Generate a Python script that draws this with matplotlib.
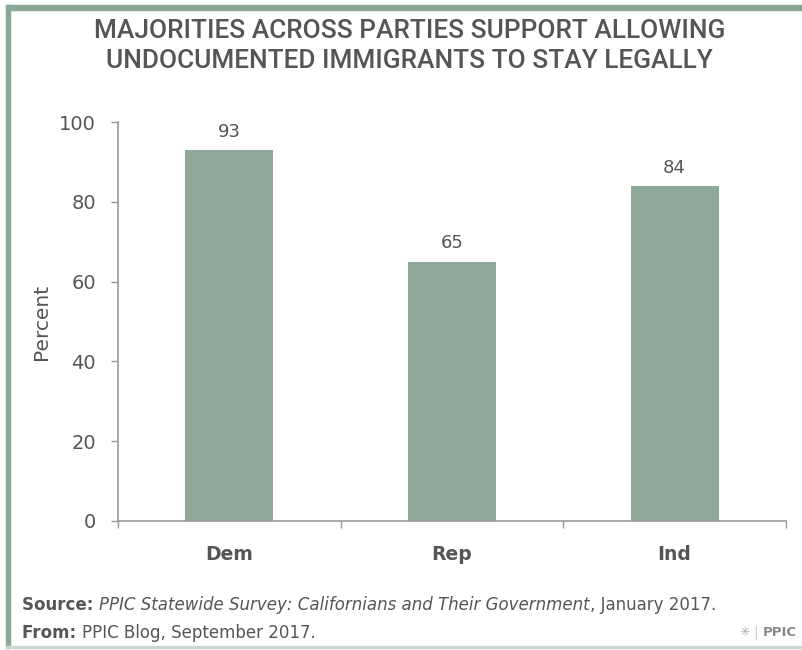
import matplotlib
matplotlib.use("Agg")
import matplotlib.pyplot as plt
from matplotlib.patches import Rectangle

categories = ["Dem", "Rep", "Ind"]
values = [93, 65, 84]
yticks = [0, 20, 40, 60, 80, 100]
title_lines = ["MAJORITIES ACROSS PARTIES SUPPORT ALLOWING",
               "UNDOCUMENTED IMMIGRANTS TO STAY LEGALLY"]

bar_color = "#8ea999"
frame_color = "#8aa898"
text_color = "#555555"

plt.rcParams['font.family'] = ['DejaVu Sans']

fig = plt.figure(figsize=(8.03, 6.5), dpi=100)
W, H = 803, 650
renderer = fig.canvas.get_renderer()

def fx(x): return x / W
def fy(y): return 1 - y / H

def fit(t, target_w):
    bb = t.get_window_extent(renderer=renderer)
    t.set_fontsize(t.get_fontsize() * target_w / bb.width)

def width(t):
    return t.get_window_extent(renderer=renderer).width

# frame
fig.patches.append(Rectangle((fx(6), fy(10)), fx(797), fy(5) - fy(10), transform=fig.transFigure,
                             color=frame_color, zorder=0))
fig.patches.append(Rectangle((fx(6), fy(648)), fx(4), fy(5) - fy(648), transform=fig.transFigure,
                             color=frame_color, zorder=0))
fig.patches.append(Rectangle((fx(6), fy(648)), fx(797), fy(646) - fy(648), transform=fig.transFigure,
                             color="#c9d8cf", zorder=0))

ax = fig.add_axes([fx(118), fy(521), fx(786) - fx(118), fy(122) - fy(521)])
x = list(range(len(categories)))
ax.bar(x, values, width=0.395, color=bar_color, zorder=2)
for xi, v in zip(x, values):
    ax.text(xi, v + 2.3, str(v), ha="center", va="bottom", fontsize=13, color=text_color)

ax.set_xlim(-0.5, len(categories) - 0.5)
ax.set_ylim(0, 100)
ax.set_yticks(yticks)
ax.set_yticklabels([str(t) for t in yticks], fontsize=14, color=text_color)
ax.set_xticks(x)
ax.set_xticklabels(categories, fontsize=13.5, color=text_color, fontweight="bold")
ax.tick_params(axis="x", length=0, pad=17)
ax.tick_params(axis="y", length=5, width=1, color="#999999", pad=11)
ax.set_xticks([-0.5 + i for i in range(len(categories) + 1)], minor=True)
ax.tick_params(axis="x", which="minor", length=5, width=1, color="#999999")
for s in ["top", "right"]:
    ax.spines[s].set_visible(False)
for s in ["left", "bottom"]:
    ax.spines[s].set_color("#999999")
    ax.spines[s].set_linewidth(1.2)
ax.set_ylabel("Percent", fontsize=14.5, color=text_color, labelpad=6)

t = fig.text(fx(410), fy(31), title_lines[0], ha="center", va="center",
             fontsize=16, color=text_color, family=["Roboto", "DejaVu Sans"], fontweight="medium")
fit(t, 632)
t2 = fig.text(fx(409), fy(61), title_lines[1], ha="center", va="center",
              fontsize=t.get_fontsize(), color=text_color, family=["Roboto", "DejaVu Sans"],
              fontweight="medium")

fs = 10.5
y1 = fy(605)
parts = [("Source: ", "bold", "normal"),
         ("PPIC Statewide Survey: Californians and Their Government", "normal", "italic"),
         (", January 2017.", "normal", "normal")]
tmp = fig.text(0, 0, "".join(p[0] for p in parts), fontsize=fs)
fs = fs * 690 / width(tmp)
tmp.remove()
xpos = 22
for s, w, st in parts:
    tt = fig.text(fx(xpos), y1, s, ha="left", va="center", fontsize=fs, color=text_color,
                  fontweight=w, style=st)
    xpos += width(tt)

y2 = fy(633)
xpos = 22
for s, w in [("From: ", "bold"), ("PPIC Blog, September 2017.", "normal")]:
    tt = fig.text(fx(xpos), y2, s, ha="left", va="center", fontsize=fs, color=text_color,
                  fontweight=w)
    xpos += width(tt)

fig.text(fx(745), y2, "\u2733", ha="center", va="center", fontsize=9, color="#aaaaaa")
fig.text(fx(756), y2, "|", ha="center", va="center", fontsize=10, color="#cccccc")
fig.text(fx(763), y2, "PPIC", ha="left", va="center", fontsize=9.5, color="#888888",
         fontweight="bold")

fig.savefig("out.png", dpi=100, facecolor="white")
